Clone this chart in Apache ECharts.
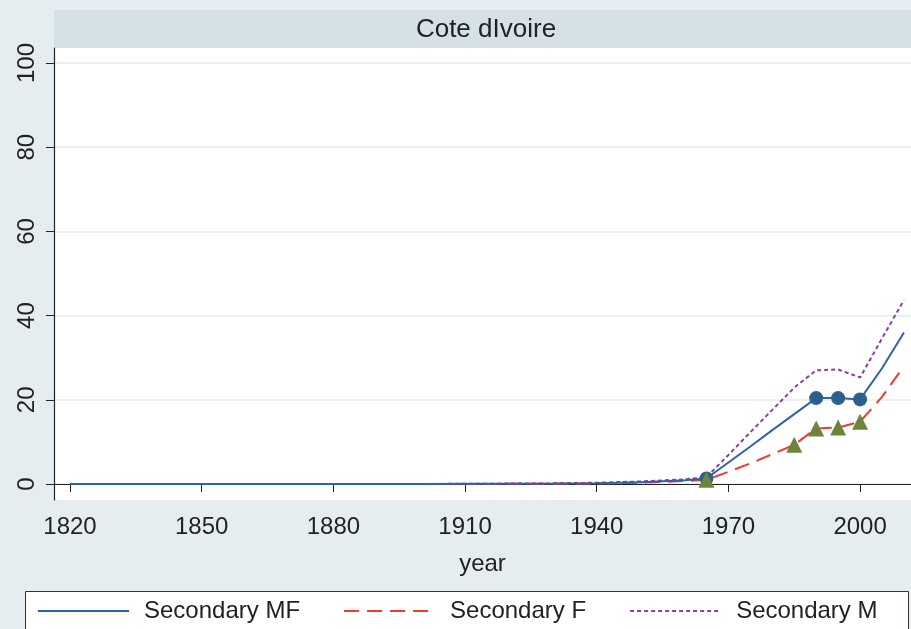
<!DOCTYPE html>
<html>
<head>
<meta charset="utf-8">
<script src="https://cdn.jsdelivr.net/npm/echarts@6/dist/echarts.min.js"></script>
<style>
  html, body { margin: 0; padding: 0; background: #e6edf0; }
  #chart { width: 911px; height: 629px; }
</style>
</head>
<body>
<div id="chart"></div>
<script>
// Secondary enrolment series for Cote d'Ivoire, by year
const years   = [1820, 1870, 1900, 1930, 1940, 1950, 1960, 1965, 1970, 1975, 1980, 1985, 1990, 1995, 2000, 2005, 2010];
const secMF   = [0, 0, 0, 0.1, 0.2, 0.4, 0.9, 1.3, 5.1, 8.9, 12.8, 16.6, 20.4, 20.4, 20.1, 27.5, 36.0];
const secF    = [0, 0, 0, 0.05, 0.1, 0.3, 0.7, 1.0, 2.9, 4.9, 7.1, 9.3, 13.2, 13.4, 14.8, 20.7, 28.0];
const secM    = [0, 0, 0, 0.15, 0.3, 0.6, 1.1, 1.6, 6.9, 12.3, 17.6, 22.9, 27.0, 27.2, 25.3, 34.6, 43.7];

// Observed points marked on the chart
const obsYearsMF = [1965, 1990, 1995, 2000];
const obsMF      = [1.3, 20.4, 20.4, 20.1];
const obsYearsF  = [1965, 1985, 1990, 1995, 2000];
const obsF       = [1.0, 9.3, 13.2, 13.4, 14.8];

const xTicks = [1820, 1850, 1880, 1910, 1940, 1970, 2000];
const yTicks = [0, 20, 40, 60, 80, 100];

const FONT = '"Liberation Sans", Arial, Helvetica, sans-serif';
const pair = (xs, ys) => xs.map((x, i) => [x, ys[i]]);

const chart = echarts.init(document.getElementById('chart'));
chart.setOption({
  backgroundColor: '#e6edf0',
  animation: false,
  textStyle: { fontFamily: FONT },
  grid: { left: 54, right: 0, top: 48, bottom: 129, containLabel: false, backgroundColor: '#ffffff', show: true, borderWidth: 0 },
  graphic: [
    { type: 'rect', left: 54, top: 10, shape: { width: 857, height: 38 }, style: { fill: '#d5e1e7' }, z: 0 },
    { type: 'text', x: 486, y: 30, style: { text: 'Cote dIvoire', font: '26px ' + FONT, fill: '#222', align: 'center', verticalAlign: 'middle' }, z: 5 },
    { type: 'rect', left: 25, top: 591, shape: { width: 883, height: 60 }, style: { fill: '#ffffff', stroke: '#333333', lineWidth: 1 }, z: 0 }
  ],
  legend: {
    data: ['Secondary MF', 'Secondary F', 'Secondary M'],
    left: 32, top: 594,
    itemWidth: 91, itemHeight: 14, itemGap: 43,
    itemStyle: { opacity: 0 },
    textStyle: { fontSize: 24, color: '#222', fontFamily: FONT, padding: [0, 0, 0, 10] }
  },
  xAxis: {
    type: 'value', min: 1816.35, max: 2011.6,
    name: 'year', nameLocation: 'middle', nameGap: 52,
    nameTextStyle: { fontSize: 24, color: '#222' },
    axisLine: { show: true, lineStyle: { color: '#222', width: 1.2 } },
    axisTick: { show: true, length: 8, lineStyle: { color: '#222' }, customValues: xTicks },
    axisLabel: { fontSize: 24, color: '#222', margin: 15, customValues: xTicks, formatter: v => String(v) },
    splitLine: { show: false }
  },
  yAxis: {
    type: 'value', min: -3.8, max: 103.56,
    axisLine: { show: true, lineStyle: { color: '#222', width: 1.2 } },
    axisTick: { show: true, length: 8, lineStyle: { color: '#222' }, customValues: yTicks },
    axisLabel: { fontSize: 24, color: '#222', rotate: 90, margin: 15, customValues: yTicks },
    splitLine: { show: true, lineStyle: { color: '#e4ebee', width: 1.5 } }
  },
  series: [
    { name: 'Secondary MF', type: 'line', data: pair(years, secMF), symbol: 'none', z: 4,
      lineStyle: { color: '#2f62ac', width: 2 }, itemStyle: { color: '#2f62ac' } },
    { name: 'Secondary F', type: 'line', data: pair(years, secF), symbol: 'none', z: 3,
      lineStyle: { color: '#f53a2a', width: 2, type: [15, 8] }, itemStyle: { color: '#f53a2a' } },
    { name: 'Secondary M', type: 'line', data: pair(years, secM), symbol: 'none', z: 3,
      lineStyle: { color: '#8e3f9e', width: 2, type: [4, 3] }, itemStyle: { color: '#8e3f9e' } },
    { name: 'MF obs', type: 'scatter', data: pair(obsYearsMF, obsMF), symbol: 'circle', symbolSize: 14, z: 5,
      itemStyle: { color: '#2c5f8c', opacity: 1 } },
    { name: 'F obs', type: 'scatter', data: pair(obsYearsF, obsF), symbol: 'triangle', symbolSize: 16, z: 6,
      itemStyle: { color: '#6b853d', opacity: 1 } }
  ]
});
</script>
</body>
</html>
